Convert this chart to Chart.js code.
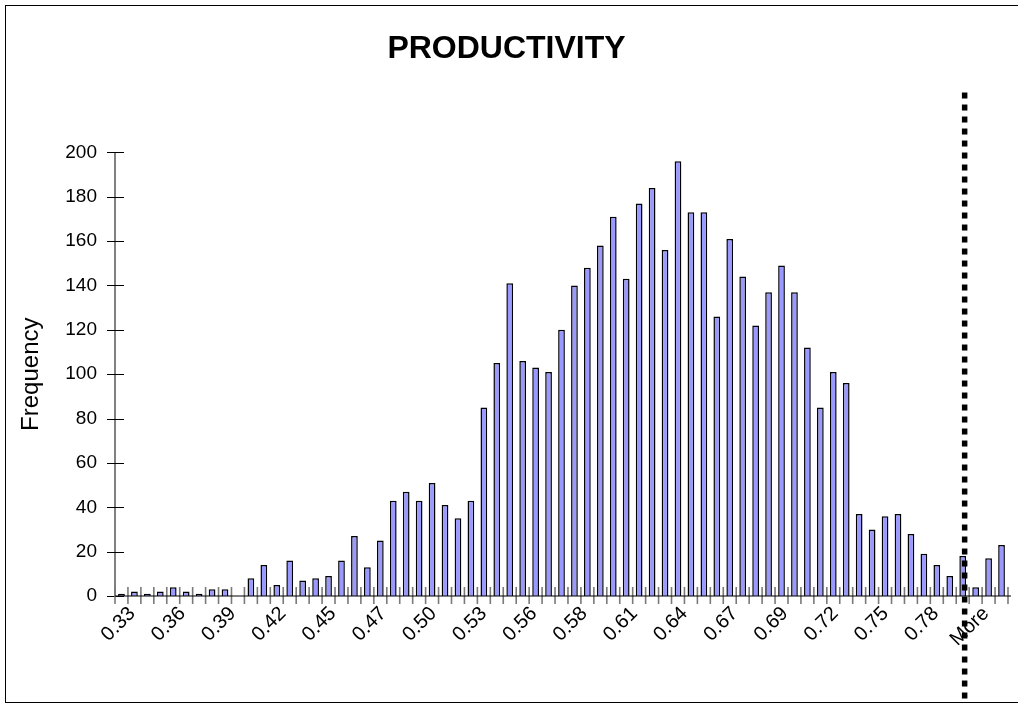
<!DOCTYPE html>
<html>
<head>
<meta charset="utf-8">
<title>PRODUCTIVITY</title>
<script src="https://cdn.jsdelivr.net/npm/chart.js@4.4.1/dist/chart.umd.min.js"></script>
<style>
  html, body { margin: 0; padding: 0; background: #ffffff; }
  #wrap { width: 1018px; height: 704px; position: relative; }
  canvas { display: block; }
</style>
</head>
<body>
<div id="wrap"><canvas id="chart" width="1018" height="704"></canvas></div>
<script>
// ---------------- data ----------------
const chartTitle = 'PRODUCTIVITY';
const yAxisTitle = 'Frequency';

const binLabels = [
  '0.33','0.34','0.35','0.36','0.36','0.37','0.38','0.38','0.39','0.40',
  '0.40','0.41','0.42','0.42','0.43','0.44','0.45','0.45','0.46','0.47',
  '0.47','0.48','0.49','0.49','0.50','0.51','0.51','0.52','0.53','0.53',
  '0.54','0.55','0.56','0.56','0.57','0.58','0.58','0.59','0.60','0.60',
  '0.61','0.62','0.62','0.63','0.64','0.65','0.65','0.66','0.67','0.67',
  '0.68','0.69','0.69','0.70','0.71','0.71','0.72','0.73','0.74','0.74',
  '0.75','0.76','0.76','0.77','0.78','0.78','0.79','0.80','More'
];

const frequencies = [
  1, 2, 1, 2, 4, 2, 1, 3, 3, 0,
  8, 14, 5, 16, 7, 8, 9, 16, 27, 13,
  25, 43, 47, 43, 51, 41, 35, 43, 85, 105,
  141, 106, 103, 101, 120, 140, 148, 158, 171, 143,
  177, 184, 156, 196, 173, 173, 126, 161, 144, 122,
  137, 149, 137, 112, 85, 101, 96, 37, 30, 36,
  37, 28, 19, 14, 9, 18, 4, 17, 23
];

// category labels that the axis actually prints (every 4th bin)
const tickLabels = [
  '0.33','0.36','0.39','0.42','0.45','0.47','0.50','0.53','0.56',
  '0.58','0.61','0.64','0.67','0.69','0.72','0.75','0.78','More'
];

const yMin = 0;
const yMax = 200;
const yStep = 20;
const cutoffBin = 65.15;       // dotted marker position, in bin units
const cutoffTopValue = 227;    // top of dotted marker, in frequency units

// label placement (Excel spaces its rotated labels slightly tighter than 4 bins)
const firstLabelPos = 1.33;    // in bin-width units from the left of the axis
const labelPitch = 3.88;       // in bin-width units

// ---------------- drawing ----------------
Chart.defaults.font.family = '"Liberation Sans", Arial, sans-serif';
Chart.defaults.color = '#000000';

const excelFrame = {
  id: 'excelFrame',
  beforeDraw(chart) {
    const { ctx } = chart;
    ctx.save();
    ctx.fillStyle = '#ffffff';
    ctx.fillRect(0, 0, chart.width, chart.height);
    ctx.strokeStyle = '#000000';
    ctx.lineWidth = 1;
    ctx.strokeRect(5.5, 5.5, chart.width + 20, chart.height - 7);
    ctx.restore();
  },
  afterDatasetsDraw(chart) {
    const { ctx, chartArea: a, scales } = chart;
    const x = scales.x, y = scales.y;
    const n = binLabels.length;
    ctx.save();
    // y axis line (grey)
    ctx.strokeStyle = '#808080';
    ctx.lineWidth = 2;
    ctx.beginPath();
    ctx.moveTo(a.left, y.getPixelForValue(yMax));
    ctx.lineTo(a.left, y.getPixelForValue(yMin));
    ctx.stroke();
    // y tick marks (black, crossing)
    ctx.strokeStyle = '#000000';
    ctx.lineWidth = 1;
    y.ticks.forEach(t => {
      const py = Math.round(y.getPixelForValue(t.value)) + 0.5;
      ctx.beginPath();
      ctx.moveTo(a.left - 8, py);
      ctx.lineTo(a.left + 9, py);
      ctx.stroke();
    });
    // x tick marks (grey, crossing) at bin boundaries
    ctx.strokeStyle = '#7a7a7a';
    ctx.lineWidth = 1.6;
    for (let i = 0; i <= n; i++) {
      const px = x.getPixelForDecimal(i / n);
      ctx.beginPath();
      ctx.moveTo(px, a.bottom - 9);
      ctx.lineTo(px, a.bottom + 8);
      ctx.stroke();
    }
    // x axis line (black)
    ctx.strokeStyle = '#000000';
    ctx.lineWidth = 1.2;
    ctx.beginPath();
    ctx.moveTo(a.left, a.bottom);
    ctx.lineTo(a.right + 3, a.bottom);
    ctx.stroke();
    ctx.restore();
  },
  afterDraw(chart) {
    const { ctx, scales } = chart;
    const x = scales.x, y = scales.y;
    const n = binLabels.length;
    const px = x.getPixelForDecimal((cutoffBin + 0.5) / n);
    ctx.save();
    ctx.strokeStyle = '#000000';
    ctx.lineWidth = 5.5;
    ctx.lineCap = 'butt';
    ctx.setLineDash([6, 6]);
    ctx.beginPath();
    ctx.moveTo(px, y.getPixelForValue(cutoffTopValue));
    ctx.lineTo(px, chart.height);
    ctx.stroke();
    ctx.restore();
  }
};

new Chart(document.getElementById('chart'), {
  type: 'bar',
  data: {
    labels: binLabels,
    datasets: [{
      label: yAxisTitle,
      data: frequencies,
      backgroundColor: '#9999FF',
      borderColor: '#000000',
      borderWidth: 1.5,
      borderSkipped: 'bottom',
      barPercentage: 0.52,
      categoryPercentage: 1.0
    }]
  },
  options: {
    responsive: false,
    devicePixelRatio: 1,
    animation: false,
    layout: { padding: { left: 5, right: 10, top: 0, bottom: 0 } },
    plugins: {
      legend: { display: false },
      tooltip: { enabled: false },
      title: {
        display: true,
        text: chartTitle,
        color: '#000000',
        font: { size: 32, weight: 'bold' },
        padding: { top: 30, bottom: 84 }
      }
    },
    scales: {
      x: {
        type: 'category',
        display: false,
        offset: true
      },
      xLabels: {
        type: 'linear',
        axis: 'x',
        position: 'bottom',
        offset: false,
        bounds: 'data',
        min: -firstLabelPos / labelPitch,
        max: (binLabels.length - firstLabelPos) / labelPitch,
        grid: { display: false, drawTicks: false, offset: false },
        border: { display: false },
        ticks: {
          stepSize: 1,
          includeBounds: false,
          autoSkip: false,
          minRotation: 45,
          maxRotation: 45,
          padding: 6,
          color: '#000000',
          font: { size: 20 },
          callback: (v, i) => (tickLabels[i] !== undefined ? tickLabels[i] : null)
        },
        afterBuildTicks: s => {
          s.ticks = tickLabels.map((_, i) => ({ value: i }));
          s.min = -firstLabelPos / labelPitch;
          s.max = (binLabels.length - firstLabelPos) / labelPitch;
        },
        afterFit: s => { s.height = 108; s.paddingLeft = 0; s.paddingRight = 0; }
      },
      y: {
        min: yMin,
        max: yMax,
        grid: { display: false, drawTicks: false },
        border: { display: false },
        ticks: {
          stepSize: yStep,
          padding: 18,
          color: '#000000',
          font: { size: 19 }
        },
        title: {
          display: true,
          text: yAxisTitle,
          color: '#000000',
          font: { size: 24 },
          padding: { top: 12, bottom: 0 }
        },
        afterFit: s => { s.width = 110; }
      }
    }
  },
  plugins: [excelFrame]
});
</script>
</body>
</html>
